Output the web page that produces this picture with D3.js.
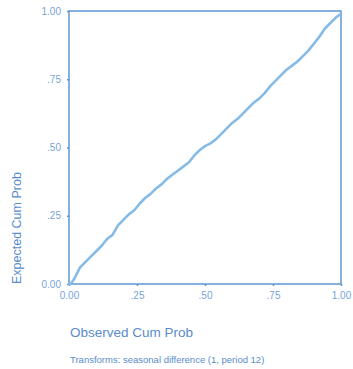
<!DOCTYPE html>
<html>
<head>
<meta charset="utf-8">
<script src="https://cdn.jsdelivr.net/npm/d3@7"></script>
<style>
  body { margin: 0; background: #fff; }
  svg { font-family: "Liberation Sans", Arial, sans-serif; }
</style>
</head>
<body>
<svg id="chart" width="353" height="369"></svg>
<script>
// P-P plot values
const observed = [0, .01, .02, .04, .06, .08, .10, .12, .14, .16, .18, .20, .22, .24, .26, .28, .30, .32, .34, .36, .38, .40,
  .42, .44, .46, .48, .50, .52, .54, .56, .58, .60, .62, .64, .66, .68, .70, .72, .74, .76, .78, .80, .82, .84, .86, .88,
  .90, .92, .94, .96, .98, 1.0];
const expected = [0, .005, .02, .06, .08, .10, .12, .14, .165, .18, .215, .235, .255, .27, .295, .315, .33, .35, .365, .385, .40, .415,
  .43, .445, .47, .49, .505, .515, .53, .55, .57, .59, .605, .625, .645, .665, .68, .70, .725, .745, .765, .785, .80, .815, .835, .855,
  .88, .905, .935, .955, .975, .99];
const tickValues = [0, .25, .5, .75, 1];
const tickLabels = ["0.00", ".25", ".50", ".75", "1.00"];

const margin = { top: 11, right: 12, bottom: 85, left: 69 };
const svg = d3.select("#chart");
const width = +svg.attr("width") - margin.left - margin.right;
const height = +svg.attr("height") - margin.top - margin.bottom;

const x = d3.scaleLinear().domain([0, 1]).range([0, width]);
const y = d3.scaleLinear().domain([0, 1]).range([height, 0]);

const g = svg.append("g").attr("transform", "translate(" + margin.left + "," + margin.top + ")");

const axisColor = "#5f96d2";
const textColor = "#7aa4d8";

const styleAxis = (sel) => {
  sel.select(".domain").remove();
  sel.selectAll(".tick line").attr("stroke", axisColor).attr("stroke-width", 1.5);
  sel.selectAll(".tick text").attr("fill", textColor).style("font-size", "10px");
};

g.append("g")
  .attr("transform", "translate(0," + height + ")")
  .call(d3.axisBottom(x).tickValues(tickValues).tickSize(2).tickPadding(6)
    .tickFormat((d, i) => tickLabels[i]))
  .call(styleAxis);

g.append("g")
  .call(d3.axisLeft(y).tickValues(tickValues).tickSize(2).tickPadding(6)
    .tickFormat((d, i) => tickLabels[i]))
  .call(styleAxis);

// frame
g.append("rect")
  .attr("width", width).attr("height", height)
  .attr("fill", "none")
  .attr("stroke", axisColor)
  .attr("stroke-width", 1.5);

const line = d3.line()
  .x((d, i) => x(observed[i]))
  .y((d) => y(d));

g.append("path")
  .datum(expected)
  .attr("d", line)
  .attr("fill", "none")
  .attr("stroke", "#86bbe6")
  .attr("stroke-width", 2.6)
  .attr("stroke-linejoin", "round")
  .attr("stroke-linecap", "round");

svg.append("text")
  .attr("x", 70).attr("y", 337)
  .attr("fill", "#5a8ccc")
  .style("font-size", "13.5px")
  .text("Observed Cum Prob");

svg.append("text")
  .attr("transform", "translate(21,284) rotate(-90)")
  .attr("fill", "#5a8ccc")
  .style("font-size", "12.5px")
  .text("Expected Cum Prob");

svg.append("text")
  .attr("x", 70).attr("y", 363)
  .attr("fill", "#5a8ccc")
  .style("font-size", "9.5px")
  .text("Transforms: seasonal difference (1, period 12)");
</script>
</body>
</html>
